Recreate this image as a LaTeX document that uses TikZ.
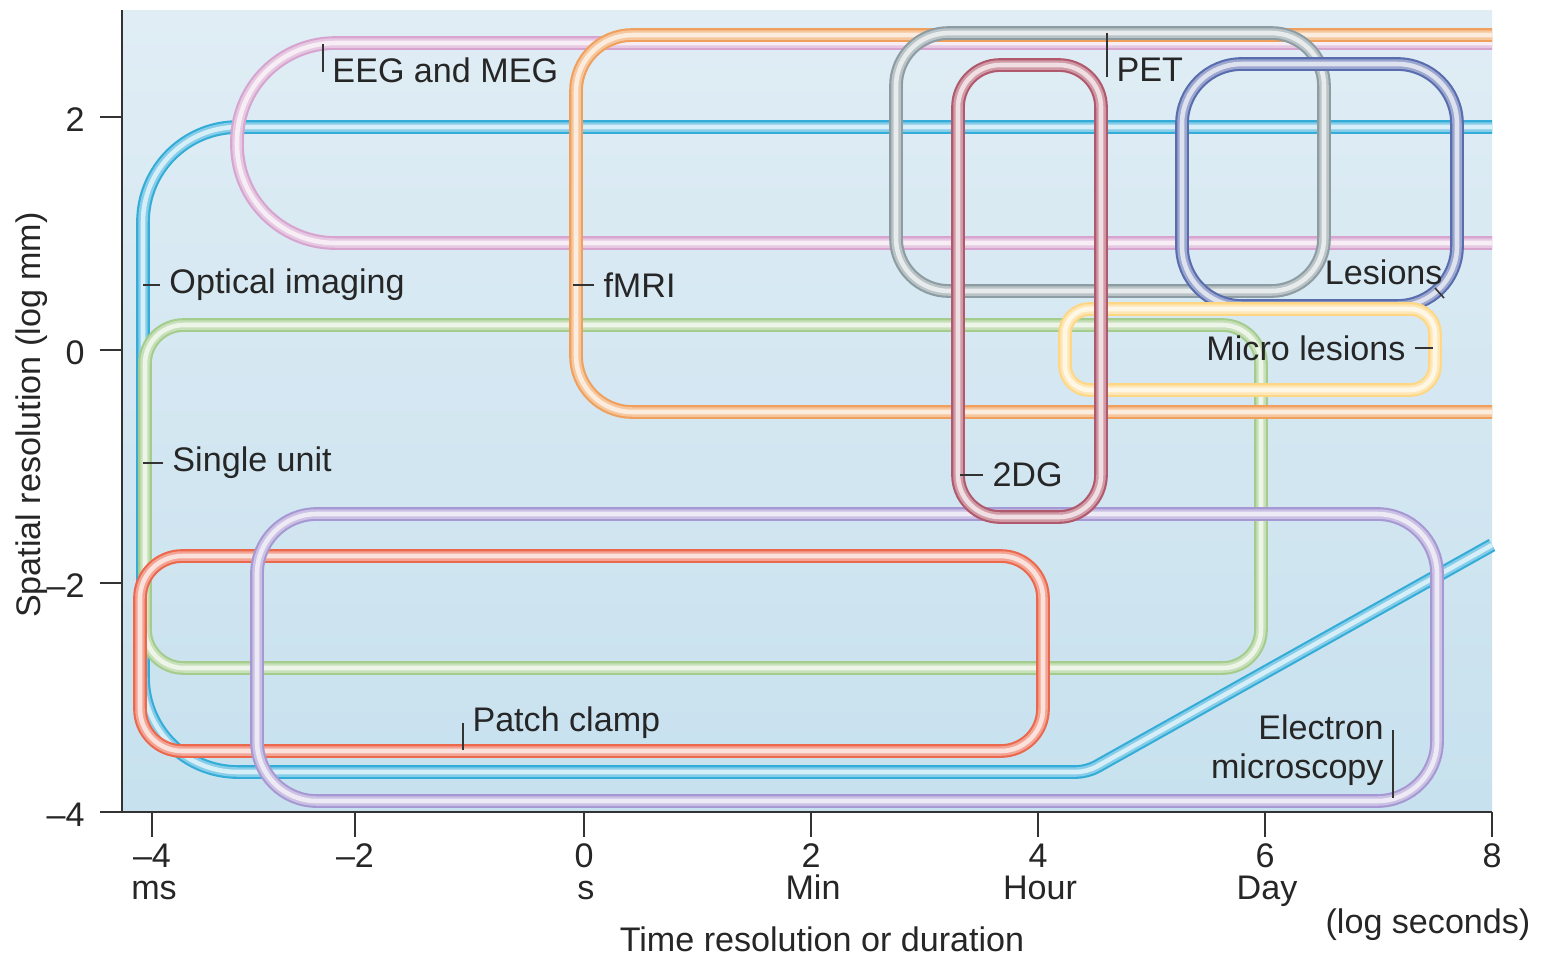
\documentclass[tikz,border=0pt]{standalone}
\usepackage{fontspec}
\setmainfont{Liberation Sans}
\usepackage{xcolor}
\usepackage{tikz}
\definecolor{bgtop}{RGB}{224,237,245}
\definecolor{bgbot}{RGB}{199,225,238}
\definecolor{opticblue}{RGB}{52,172,216}
\definecolor{eegpink}{RGB}{214,164,206}
\definecolor{fmriorange}{RGB}{240,160,92}
\definecolor{unitgreen}{RGB}{164,204,140}
\definecolor{patchred}{RGB}{236,104,76}
\definecolor{empurple}{RGB}{166,152,210}
\definecolor{petgray}{RGB}{140,156,162}
\definecolor{dgmaroon}{RGB}{176,88,108}
\definecolor{lesionblue}{RGB}{88,108,174}
\definecolor{microyellow}{RGB}{255,214,132}
\tikzset{
    band/.style={preaction={draw=#1, line width=3.9pt},
                 preaction={draw=#1!60!white, line width=2.7pt},
                 draw=#1!20!white, line width=1.3pt},
    lbl/.style={font=\fontsize{9.7}{11}\selectfont, text=black!85, inner sep=2.5pt},
    ticklbl/.style={font=\fontsize{9.7}{11}\selectfont, text=black!85, inner sep=0pt, anchor=base},
    lead/.style={black!80, line width=0.45pt},
}

\begin{document}
\begin{tikzpicture}[x=0.01cm, y=-0.01cm]
    \useasboundingbox (0,0) rectangle (1542,956);

    % Background
    \shade[top color=bgtop, bottom color=bgbot] (122,10) rectangle (1492,812);

    % Bands
    \draw[band=opticblue, rounded corners=27pt] (1492,127) -- (143,127) -- (143,772) [rounded corners=3pt] -- (1087,772) -- (1492,545);
    \draw[band=unitgreen, rounded corners=11pt] (145,325) rectangle (1261,668);
    \draw[band=eegpink, rounded corners=28pt] (1492,43) -- (237,43) -- (237,243) -- (1492,243);
    \draw[band=fmriorange, rounded corners=16pt] (1492,35) -- (576,35) -- (576,412) -- (1492,412);
    \draw[band=patchred, rounded corners=12pt] (140,556) rectangle (1043,751);
    \draw[band=empurple, rounded corners=17pt] (257,514) rectangle (1437,801);
    \draw[band=petgray, rounded corners=15pt] (896,33) rectangle (1324,291);
    \draw[band=lesionblue, rounded corners=17pt] (1182,64) rectangle (1457,306);
    \draw[band=microyellow, rounded corners=7pt] (1065,309) rectangle (1435,390);
    \draw[band=dgmaroon, rounded corners=12pt] (958,65) rectangle (1101,517);

    % Axes
    \draw[black!80, line width=0.5pt] (122,10) -- (122,812) -- (1492,812);
    \foreach \y/\val in {117/2, 350/0, 583/–2, 812/–4} {
        \draw[lead] (100,\y) -- (122,\y);
        \node[lbl, anchor=east] (ytick\y) at (94,\y+3) {\val};
    }
    \foreach \x/\val/\unit in {152/–4/ms, 355/–2/, 584/0/s, 811/2/Min, 1038/4/Hour, 1265/6/Day, 1492/8/} {
        \draw[lead] (\x,812) -- (\x,837);
        \node[ticklbl] (xtick\x) at (\x,867) {\val};
        \node[ticklbl] (xunit\x) at (\x+2,899) {\unit};
    }
    \node[lbl, rotate=90] (ylabel) at (32,415) {Spatial resolution (log mm)};
    \node[ticklbl] (xlabel) at (822,951) {Time resolution or duration};
    \node[ticklbl] (logsec) at (1428,933) {(log seconds)};

    % Labels
    \node[lbl, anchor=west] (eeg) at (323,70) {EEG and MEG};
    \draw[lead] (eeg.west) ++(0,2) -- ++(0,-28);
    \node[lbl, anchor=west] (optical) at (160,285) {Optical imaging};
    \draw[lead] (optical.west) -- ++(-17,0);
    \node[lbl, anchor=west] (fmri) at (594,285) {fMRI};
    \draw[lead] (fmri.west) -- ++(-21,0);
    \node[lbl, anchor=west] (single) at (163,463) {Single unit};
    \draw[lead] (single.west) -- ++(-20,0);
    \node[lbl, anchor=west] (pet) at (1107,70) {PET};
    \draw[lead] ([yshift=-2pt]pet.west) -- ++(0,-44);
    \node[lbl, anchor=west] (twodg) at (983,475) {2DG};
    \draw[lead] (twodg.west) -- ++(-23,0);
    \node[lbl, anchor=east] (lesions) at (1452,272) {Lesions};
    \draw[lead] ([shift={(-17,16)}]lesions.east) -- ++(9,10);
    \node[lbl, anchor=east] (micro) at (1415,348) {Micro lesions};
    \draw[lead] (micro.east) -- ++(18,0);
    \node[lbl, anchor=west] (patch) at (463,723) {Patch clamp};
    \draw[lead] (patch.west) -- ++(0,27);
    \node[lbl, anchor=east, align=right] (em) at (1393,750) {Electron\\microscopy};
    \draw[lead] (em.east) ++(0,-20) -- ++(0,68);
\end{tikzpicture}
\end{document}
